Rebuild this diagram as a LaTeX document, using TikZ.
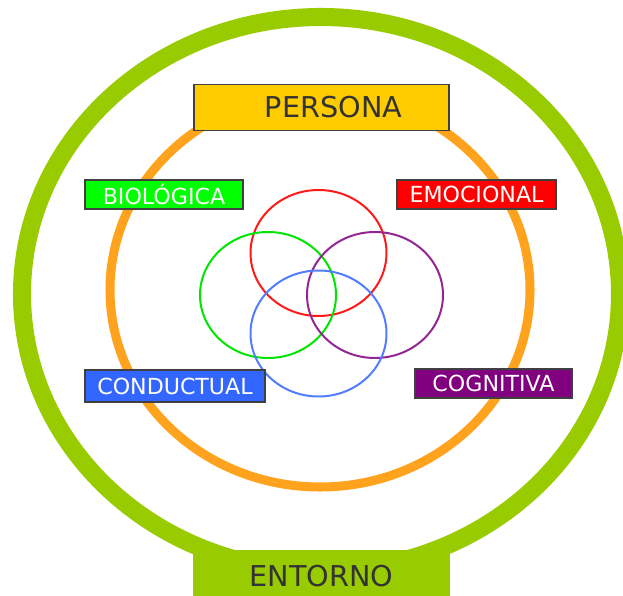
\documentclass[tikz,border=0pt]{standalone}
\usepackage{fontspec}
\setsansfont{DejaVu Sans}
\definecolor{ring}{HTML}{99CC00}
\definecolor{orangering}{HTML}{FFA31F}
\definecolor{gold}{HTML}{FFCC00}
\definecolor{biogreen}{HTML}{00FF00}
\definecolor{emored}{HTML}{FF0000}
\definecolor{condblue}{HTML}{3366FF}
\definecolor{cogpurple}{HTML}{800080}
\definecolor{edge}{HTML}{404040}

\begin{document}
\begin{tikzpicture}[
  x=0.03cm, y=-0.03cm,
  font=\sffamily,
  label/.style={draw=edge, fill=#1, line width=1.3pt, text=white, minimum height=0.87cm, inner sep=0pt, font=\sffamily\fontsize{18.9}{20}\selectfont},
  title/.style={fill=#1, inner sep=0pt, text=black!80, font=\sffamily\fontsize{24.5}{26}\selectfont},
  venn/.style={draw=#1, line width=1.7pt}
]
\useasboundingbox (0,0) rectangle (623,596);

% environment ring
\draw[ring, line width=15.4pt] (321,294) ellipse [x radius=299, y radius=277];
\node[title=ring, minimum width=7.71cm, minimum height=1.56cm] (entorno) at (321.5,576) {ENTORNO};

% person ring
\draw[orangering, line width=7.7pt] (320,290) ellipse [x radius=210, y radius=197];
\node[title=gold, draw=edge, line width=1.3pt, minimum width=7.65cm, minimum height=1.38cm] (persona) at (321.5,107.5) {\hspace*{0.72cm}PERSONA};

% dimensions
\draw[venn=emored!90!white] (318.5,253) ellipse [x radius=68, y radius=63];
\draw[venn=biogreen!90!black] (268,295) ellipse [x radius=68, y radius=63];
\draw[venn=cogpurple!85!white] (375,295) ellipse [x radius=68, y radius=63];
\draw[venn=condblue!85!white] (318.5,333.5) ellipse [x radius=68, y radius=63];

\node[label=biogreen, minimum width=4.74cm] (bio) at (164,194.5) {BIOLÓGICA};
\node[label=emored, minimum width=4.77cm] (emo) at (476.5,194.5) {EMOCIONAL};
\node[label=condblue, minimum width=5.4cm, minimum height=0.96cm] (cond) at (175,386) {CONDUCTUAL};
\node[label=cogpurple, minimum width=4.71cm] (cog) at (493.5,383.5) {COGNITIVA};
\end{tikzpicture}
\end{document}
